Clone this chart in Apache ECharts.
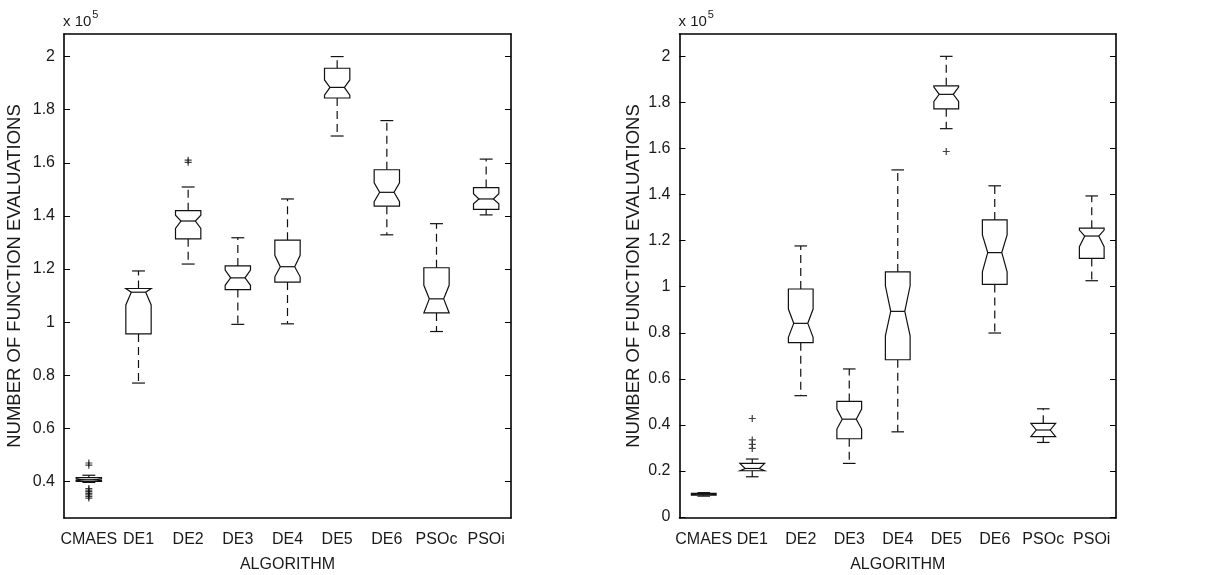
<!DOCTYPE html>
<html>
<head>
<meta charset="utf-8">
<script src="https://cdn.jsdelivr.net/npm/echarts@6/dist/echarts.min.js"></script>
<style>
  html, body { margin: 0; padding: 0; background: #fff; }
  #chart { width: 1213px; height: 575px; }
</style>
</head>
<body>
<div id="chart"></div>
<script>
// Values in units of 10^5 function evaluations
const categories = ['CMAES', 'DE1', 'DE2', 'DE3', 'DE4', 'DE5', 'DE6', 'PSOc', 'PSOi'];
const leftTicks  = [0.4, 0.6, 0.8, 1, 1.2, 1.4, 1.6, 1.8, 2];
const rightTicks = [0, 0.2, 0.4, 0.6, 0.8, 1, 1.2, 1.4, 1.6, 1.8, 2];

// Left panel
const leftWhiskerLow  = [0.397, 0.771, 1.219, 0.992, 0.994, 1.701, 1.329, 0.965, 1.404];
const leftQ1          = [0.401, 0.956, 1.314, 1.123, 1.151, 1.844, 1.437, 1.035, 1.425];
const leftNotchLow    = [0.404, 1.065, 1.353, 1.139, 1.171, 1.855, 1.454, 1.035, 1.446];
const leftMedian      = [0.407, 1.113, 1.381, 1.167, 1.209, 1.884, 1.489, 1.088, 1.464];
const leftNotchHigh   = [0.410, 1.127, 1.403, 1.196, 1.252, 1.912, 1.525, 1.139, 1.484];
const leftQ3          = [0.415, 1.127, 1.420, 1.212, 1.309, 1.956, 1.574, 1.205, 1.507];
const leftWhiskerHigh = [0.424, 1.193, 1.509, 1.318, 1.464, 2.000, 1.759, 1.371, 1.614];
const leftOutliers = [
  [0, 0.470], [0, 0.462], [0, 0.374], [0, 0.368], [0, 0.362], [0, 0.356],
  [0, 0.350], [0, 0.344], [0, 0.338], [2, 1.610], [2, 1.602]
];

// Right panel
const rightWhiskerLow  = [0.091, 0.175, 0.527, 0.233, 0.370, 1.686, 0.799, 0.324, 1.026];
const rightQ1          = [0.095, 0.201, 0.757, 0.340, 0.683, 1.772, 1.010, 0.349, 1.123];
const rightNotchLow    = [0.097, 0.201, 0.780, 0.382, 0.787, 1.804, 1.065, 0.349, 1.174];
const rightMedian      = [0.099, 0.211, 0.841, 0.425, 0.893, 1.835, 1.148, 0.378, 1.220];
const rightNotchHigh   = [0.101, 0.233, 0.903, 0.469, 1.004, 1.867, 1.225, 0.407, 1.246];
const rightQ3          = [0.103, 0.233, 0.990, 0.502, 1.064, 1.872, 1.290, 0.407, 1.254];
const rightWhiskerHigh = [0.106, 0.252, 1.177, 0.643, 1.507, 2.000, 1.438, 0.470, 1.394];
const rightOutliers = [
  [1, 0.428], [1, 0.335], [1, 0.316], [1, 0.298], [5, 1.587]
];

function buildBoxData(wl, q1, nlo, med, nhi, q3, wh) {
  return categories.map((c, i) => [i, wl[i], q1[i], nlo[i], med[i], nhi[i], q3[i], wh[i]]);
}

const LINE = '#111';

function renderBox(params, api) {
  const i = api.value(0);
  const wl = api.value(1), q1 = api.value(2), nlo = api.value(3), med = api.value(4),
        nhi = api.value(5), q3 = api.value(6), wh = api.value(7);
  const band = api.size([1, 0])[0];
  const x = api.coord([i, med])[0];
  const Y = v => api.coord([i, v])[1];
  const bh = band * 0.255, nh = band * 0.145, ch = band * 0.13;
  const solid = { stroke: LINE, lineWidth: 1.2, fill: null };
  const dashed = { stroke: LINE, lineWidth: 1.2, lineDash: [8, 5] };
  return {
    type: 'group',
    children: [
      { type: 'line', shape: { x1: x, y1: Y(q3), x2: x, y2: Y(wh) }, style: dashed },
      { type: 'line', shape: { x1: x, y1: Y(q1), x2: x, y2: Y(wl) }, style: dashed },
      { type: 'line', shape: { x1: x - ch, y1: Y(wh), x2: x + ch, y2: Y(wh) }, style: solid },
      { type: 'line', shape: { x1: x - ch, y1: Y(wl), x2: x + ch, y2: Y(wl) }, style: solid },
      {
        type: 'polygon',
        shape: { points: [
          [x - bh, Y(q1)], [x - bh, Y(nlo)], [x - nh, Y(med)], [x - bh, Y(nhi)], [x - bh, Y(q3)],
          [x + bh, Y(q3)], [x + bh, Y(nhi)], [x + nh, Y(med)], [x + bh, Y(nlo)], [x + bh, Y(q1)]
        ] },
        style: { stroke: LINE, lineWidth: 1.2, fill: '#fff' }
      },
      { type: 'line', shape: { x1: x - nh, y1: Y(med), x2: x + nh, y2: Y(med) }, style: solid }
    ]
  };
}

const FONT = 'Liberation Sans, Arial, sans-serif';
const TXT = '#1a1a1a';

function xAxes(gridIndex) {
  return [
    {
      type: 'category', gridIndex, data: categories, position: 'bottom', boundaryGap: true,
      axisLine: { onZero: false, lineStyle: { color: '#000', width: 1.6 } },
      axisTick: { inside: true, alignWithLabel: true, interval: 0, length: 6, lineStyle: { color: '#000', width: 1 } },
      axisLabel: { interval: 0, hideOverlap: false, fontSize: 16, color: TXT, fontFamily: FONT, margin: 14 },
      splitLine: { show: false },
      name: 'ALGORITHM', nameLocation: 'middle', nameGap: 39,
      nameTextStyle: { fontSize: 16, color: TXT, fontFamily: FONT }
    },
    {
      type: 'category', gridIndex, data: categories, position: 'top', boundaryGap: true,
      axisLine: { onZero: false, lineStyle: { color: '#000', width: 1.6 } },
      axisTick: { inside: true, alignWithLabel: true, interval: 0, length: 6, lineStyle: { color: '#000', width: 1 } },
      axisLabel: { show: false },
      splitLine: { show: false }
    }
  ];
}

function yAxes(gridIndex, min, max, ticks, nameGap) {
  return [
    {
      type: 'value', gridIndex, min, max, position: 'left',
      axisLine: { show: true, lineStyle: { color: '#000', width: 1.6 } },
      axisTick: { show: true, inside: true, length: 6, customValues: ticks, lineStyle: { color: '#000', width: 1 } },
      axisLabel: { customValues: ticks, fontSize: 16, color: TXT, fontFamily: FONT, margin: 9,
                   formatter: v => String(+v.toFixed(1)) },
      splitLine: { show: false },
      name: 'NUMBER OF FUNCTION EVALUATIONS', nameLocation: 'middle', nameRotate: 90, nameGap,
      nameTextStyle: { fontSize: 18.5, color: TXT, fontFamily: FONT }
    },
    {
      type: 'value', gridIndex, min, max, position: 'right',
      axisLine: { show: true, lineStyle: { color: '#000', width: 1.6 } },
      axisTick: { show: true, inside: true, length: 6, customValues: ticks, lineStyle: { color: '#000', width: 1 } },
      axisLabel: { show: false },
      splitLine: { show: false }
    }
  ];
}

const plusSymbol = 'path://M0,5L10,5M5,0L5,10';

function multiplierLabel(left) {
  return { type: 'text', left, top: 9,
    style: { text: '{a|x 10}{b|5}', rich: {
      a: { fontSize: 15, fontFamily: FONT, fill: TXT, verticalAlign: 'bottom' },
      b: { fontSize: 11, fontFamily: FONT, fill: TXT, verticalAlign: 'bottom', padding: [0, 0, 9, 1] } } } };
}

const chart = echarts.init(document.getElementById('chart'), null, { renderer: 'canvas' });
chart.setOption({
  backgroundColor: '#fff',
  animation: false,
  grid: [
    { left: 64, top: 34, width: 447, height: 484, containLabel: false, outerBoundsMode: 'none' },
    { left: 679.5, top: 34, width: 436.5, height: 484, containLabel: false, outerBoundsMode: 'none' }
  ],
  xAxis: [...xAxes(0), ...xAxes(1)],
  yAxis: [...yAxes(0, 0.263, 2.085, leftTicks, 40), ...yAxes(1, -0.004, 2.097, rightTicks, 36)],
  graphic: [multiplierLabel(63), multiplierLabel(678.5)],
  series: [
    { type: 'custom', xAxisIndex: 0, yAxisIndex: 0, renderItem: renderBox,
      encode: { x: 0, y: [1, 2, 3, 4, 5, 6, 7] },
      data: buildBoxData(leftWhiskerLow, leftQ1, leftNotchLow, leftMedian, leftNotchHigh, leftQ3, leftWhiskerHigh) },
    { type: 'scatter', xAxisIndex: 0, yAxisIndex: 0, symbol: plusSymbol, symbolSize: 7,
      itemStyle: { color: 'transparent', borderColor: LINE, borderWidth: 1.2 },
      data: leftOutliers },
    { type: 'custom', xAxisIndex: 2, yAxisIndex: 2, renderItem: renderBox,
      encode: { x: 0, y: [1, 2, 3, 4, 5, 6, 7] },
      data: buildBoxData(rightWhiskerLow, rightQ1, rightNotchLow, rightMedian, rightNotchHigh, rightQ3, rightWhiskerHigh) },
    { type: 'scatter', xAxisIndex: 2, yAxisIndex: 2, symbol: plusSymbol, symbolSize: 7,
      itemStyle: { color: 'transparent', borderColor: LINE, borderWidth: 1.2 },
      data: rightOutliers }
  ]
});
</script>
</body>
</html>
